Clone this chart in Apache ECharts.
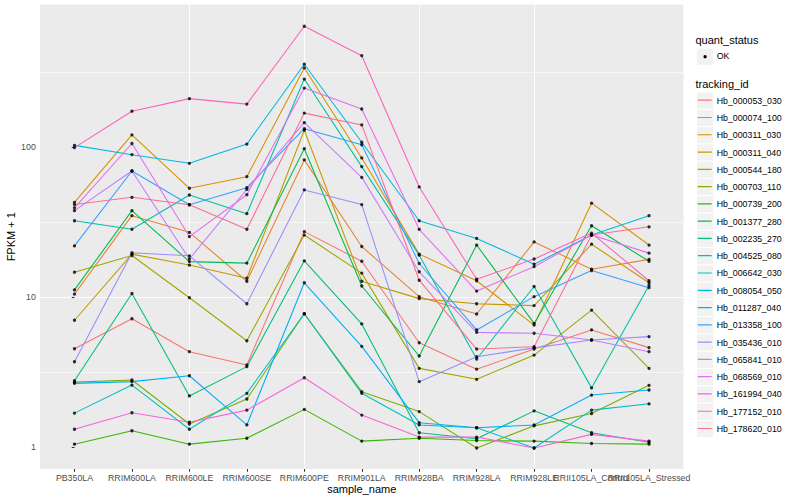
<!DOCTYPE html>
<html><head><meta charset="utf-8">
<script src="https://cdn.jsdelivr.net/npm/echarts@6/dist/echarts.min.js"></script>
<style>html,body{margin:0;padding:0;background:#fff}#c{width:800px;height:500px}</style>
</head><body><div id="c"></div>
<script>
const categories = ['PB350LA','RRIM600LA','RRIM600LE','RRIM600SE','RRIM600PE','RRIM901LA','RRIM928BA','RRIM928LA','RRIM928LE','RRII105LA_Control','RRII105LA_Stressed'];
const trackingIds = ['Hb_000053_030','Hb_000074_100','Hb_000311_030','Hb_000311_040','Hb_000544_180','Hb_000703_110','Hb_000739_200','Hb_001377_280','Hb_002235_270','Hb_004525_080','Hb_006642_030','Hb_008054_050','Hb_011287_040','Hb_013358_100','Hb_035436_010','Hb_065841_010','Hb_068569_010','Hb_161994_040','Hb_177152_010','Hb_178620_010'];
const colors = ['#F8766D','#EA8331','#D89000','#C09B00','#A3A500','#7CAE00','#39B600','#00BB4E','#00BF7D','#00C1A3','#00BFC4','#00BAE0','#00B0F6','#35A2FF','#9590FF','#C77CFF','#E76BF3','#FA62DB','#FF62BC','#FF6C91'];

const Hb_000053_030 = [4.54, 7.2, 4.34, 3.54, 27.4, 17.4, 4.98, 3.32, 4.52, 6.06, 4.62];
const Hb_000074_100 = [10.5, 35, 27.1, 12.8, 82.4, 21.8, 10.1, 7.74, 23.4, 15.4, 17.9];
const Hb_000311_030 = [42.9, 121, 53.3, 63.7, 338, 84.9, 19.4, 12.9, 6.53, 42.4, 22.3];
const Hb_000311_040 = [7.03, 19.4, 16.4, 13.4, 130, 12.8, 9.8, 9.06, 8.8, 22.6, 12.5];
const Hb_000544_180 = [14.7, 19.0, 9.94, 5.13, 26, 14.5, 3.36, 2.84, 4.12, 8.22, 3.36];
const Hb_000703_110 = [2.72, 2.81, 1.43, 2.1, 7.77, 2.35, 1.73, 0.99, 1.39, 1.68, 2.59];
const Hb_000739_200 = [1.05, 1.29, 1.05, 1.15, 1.79, 1.1, 1.15, 1.11, 1.1, 1.06, 1.05];
const Hb_001377_280 = [11.2, 37.8, 17.3, 16.9, 97.9, 11.9, 4.06, 22.3, 6.7, 30, 17.4];
const Hb_002235_270 = [2.78, 10.6, 2.2, 3.45, 17.5, 6.65, 1.25, 1.14, 1.75, 1.25, 1.08];
const Hb_004525_080 = [32.4, 28.4, 48.1, 36.1, 285, 74.3, 19.1, 3.88, 11.8, 2.49, 12.0];
const Hb_006642_030 = [1.69, 2.6, 1.32, 2.29, 7.77, 2.29, 1.41, 1.35, 0.99, 1.77, 1.95];
const Hb_008054_050 = [103, 89.3, 78.2, 105, 358, 108, 32.4, 24.7, 16.6, 26, 35];
const Hb_011287_040 = [2.67, 2.74, 3.0, 1.41, 12.5, 4.71, 1.46, 1.35, 1.41, 2.23, 2.41];
const Hb_013358_100 = [22, 69.5, 41.4, 53.8, 133, 104, 16.8, 6.06, 10.1, 15.1, 11.6];
const Hb_035436_010 = [3.72, 19.8, 18.9, 9.06, 52, 41.5, 2.74, 4.02, 4.6, 5.19, 5.47];
const Hb_065841_010 = [37.8, 69.5, 18.0, 52.4, 146, 63, 14.8, 5.84, 5.76, 5.19, 4.34];
const Hb_068569_010 = [39.5, 106, 25.4, 48.3, 248, 180, 28.4, 11.0, 16, 26, 19.7];
const Hb_161994_040 = [1.32, 1.7, 1.47, 1.77, 2.91, 1.64, 1.17, 1.17, 0.99, 1.22, 1.1];
const Hb_177152_010 = [99.5, 174, 211, 194, 641, 408, 54.4, 13.2, 18, 26.8, 12.9];
const Hb_178620_010 = [41.5, 46.4, 41.4, 28.4, 169, 141, 13.0, 4.52, 4.68, 26, 29.5];

const seriesValues = [Hb_000053_030, Hb_000074_100, Hb_000311_030, Hb_000311_040, Hb_000544_180, Hb_000703_110, Hb_000739_200, Hb_001377_280, Hb_002235_270, Hb_004525_080, Hb_006642_030, Hb_008054_050, Hb_011287_040, Hb_013358_100, Hb_035436_010, Hb_065841_010, Hb_068569_010, Hb_161994_040, Hb_177152_010, Hb_178620_010];

const yTickValues = [1, 10, 100];
const yTickLabels = ['1', '10', '100'];
const minorBreaks = [3.1623, 31.623, 316.23];

const FONT = '"Liberation Sans", Arial, Helvetica, sans-serif';
const chart = echarts.init(document.getElementById('c'), null, {renderer: 'svg'});

const lineSeries = trackingIds.map((id, k) => ({
  name: id, type: 'line', silent: true, z: 2, xAxisIndex: 0,
  data: seriesValues[k].map((v, i) => [i, v]),
  showSymbol: false, symbol: 'none',
  lineStyle: {color: colors[k], width: 1.07},
  itemStyle: {color: colors[k]}
}));

const allPoints = [];
seriesValues.forEach(arr => arr.forEach((v, i) => allPoints.push([i, v])));

const pointSeries = {
  name: 'OK', type: 'scatter', silent: true, z: 3, xAxisIndex: 0,
  data: allPoints, symbol: 'circle', symbolSize: 3.3,
  itemStyle: {color: '#000'},
  markLine: {
    silent: true, symbol: 'none', z: 1, animation: false,
    label: {show: false},
    lineStyle: {color: '#ffffff', width: 0.55, type: 'solid'},
    emphasis: {disabled: true},
    data: minorBreaks.map(v => ({yAxis: v}))
  }
};

const linePath = 'path://M0,0h0.01v0.01h-0.01z M0,7.54h14v1.2h-14z M13.99,17.27h0.01v0.01h-0.01z';
const keyTop = 92.06, keyStep = 17.28;
const graphics = [
  {type: 'text', left: 695.5, top: 34.5, style: {text: 'quant_status', fill: '#000', font: '11px ' + FONT}},
  {type: 'rect', shape: {x: 696.5, y: 48.1, width: 17.28, height: 17.28}, style: {fill: '#F2F2F2', stroke: '#fff', lineWidth: 1}, z: 0},
  {type: 'circle', shape: {cx: 705.1, cy: 56.7, r: 1.65}, style: {fill: '#000'}, z: 1},
  {type: 'text', left: 716.7, top: 51.9, style: {text: 'OK', fill: '#000', font: '8.8px ' + FONT}},
  {type: 'text', left: 695.5, top: 78.3, style: {text: 'tracking_id', fill: '#000', font: '11px ' + FONT}}
];
trackingIds.forEach((id, i) => {
  graphics.push({type: 'rect', z: 0, shape: {x: 696.5, y: keyTop + i * keyStep, width: 17.28, height: keyStep}, style: {fill: '#F2F2F2', stroke: '#fff', lineWidth: 1}});
});

const evenIdx = categories.map((c, i) => i).filter(i => i % 2 === 0);
const oddIdx = categories.map((c, i) => i).filter(i => i % 2 === 1);
const catFormatter = v => (Math.abs(v - Math.round(v)) < 1e-6 && categories[Math.round(v)]) ? categories[Math.round(v)] : '';
const xLabelStyle = {color: '#4D4D4D', fontSize: 8.8, margin: 4.2, hideOverlap: false, formatter: catFormatter};
const xTickStyle = {show: true, length: 2.75, lineStyle: {color: '#333333', width: 1.07}};

const option = {
  animation: false,
  textStyle: {fontFamily: FONT},
  grid: {left: 40, top: 4.5, width: 643.5, height: 464.5, show: true, backgroundColor: '#EBEBEB', borderWidth: 0, containLabel: false, outerBoundsMode: 'none'},
  xAxis: [{
    type: 'value', position: 'bottom', offset: 0, min: -0.6, max: 10.6, splitNumber: 11, minInterval: 1, maxInterval: 1,
    axisLine: {show: false},
    axisTick: Object.assign({customValues: evenIdx}, xTickStyle),
    axisLabel: Object.assign({customValues: evenIdx}, xLabelStyle),
    splitLine: {show: true, showMinLine: false, showMaxLine: false, lineStyle: {color: '#ffffff', width: 1.07}},
    name: 'sample_name', nameLocation: 'middle', nameGap: 14.5, nameMoveOverlap: false, nameTextStyle: {color: '#000', fontSize: 11}
  }, {
    type: 'value', position: 'bottom', offset: 0, min: -0.6, max: 10.6, splitNumber: 11, minInterval: 1, maxInterval: 1,
    axisLine: {show: false},
    axisTick: Object.assign({customValues: oddIdx}, xTickStyle),
    axisLabel: Object.assign({customValues: oddIdx}, xLabelStyle),
    splitLine: {show: false}
  }],
  yAxis: {
    type: 'log', logBase: 10, min: 0.717, max: 895,
    axisLine: {show: false},
    axisTick: {show: true, length: 2.75, lineStyle: {color: '#333333', width: 1.07}, customValues: yTickValues},
    axisLabel: {
      formatter: v => {
        const l = Math.log10(v), r = Math.round(l);
        if (Math.abs(l - r) < 1e-6 && r >= 0 && r < yTickLabels.length) return yTickLabels[r];
        return '';
      },
      color: '#4D4D4D', fontSize: 8.8, margin: 4.2
    },
    splitLine: {show: true, showMinLine: false, showMaxLine: false, lineStyle: {color: '#ffffff', width: 1.07}},
    name: 'FPKM + 1', nameLocation: 'middle', nameGap: 24, nameMoveOverlap: false, nameTextStyle: {color: '#000', fontSize: 11}
  },
  legend: {
    orient: 'vertical', left: 697.7, top: keyTop, padding: 0, itemGap: 0,
    itemWidth: 14, itemHeight: keyStep, icon: linePath, selectedMode: false,
    textStyle: {fontSize: 8.8, color: '#000', fontFamily: FONT},
    data: trackingIds.map((n, i) => ({name: n, icon: linePath, itemStyle: {color: colors[i], borderWidth: 0}}))
  },
  graphic: graphics,
  series: [...lineSeries, pointSeries]
};
chart.setOption(option);
</script>
</body></html>
